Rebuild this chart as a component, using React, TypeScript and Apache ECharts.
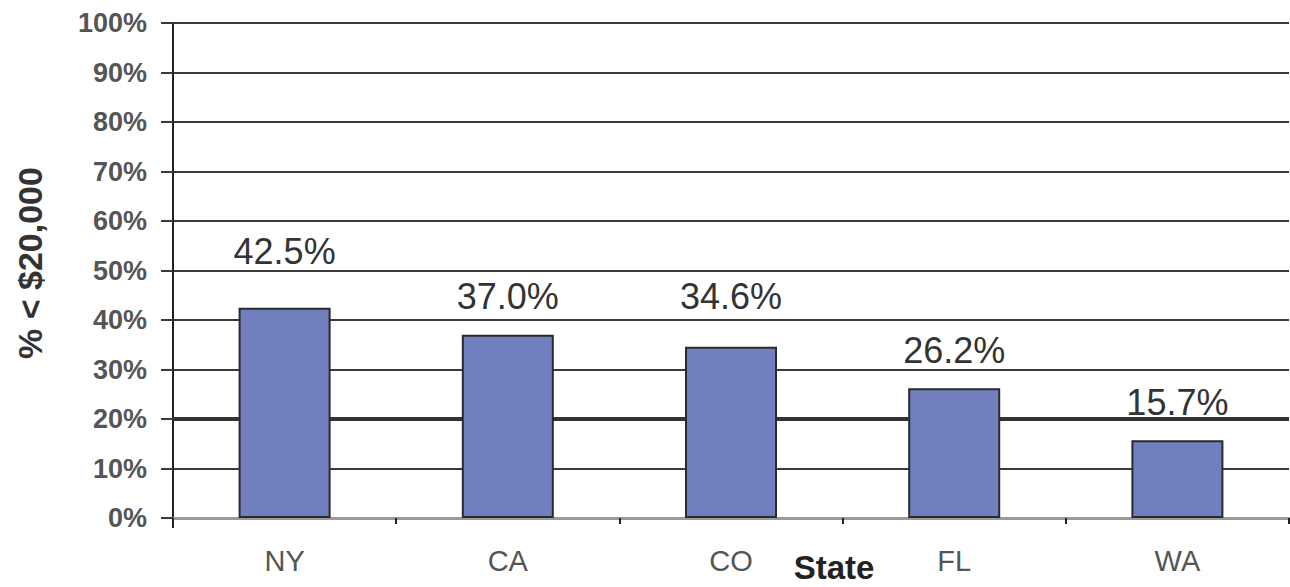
import React, { useEffect, useRef } from "react";
import * as echarts from "echarts";

// Share of households under $20,000, by state
const states = ["NY", "CA", "CO", "FL", "WA"];
const shares = [42.5, 37.0, 34.6, 26.2, 15.7];
// extra lift of the value labels above their bars (px)
const labelLift = [18, 0, 12, 0, 0];

const yTicks = { min: 0, max: 100, interval: 10 };
// the heavier reference gridline
const heavyLine = 20;

const GRID = { left: 173, right: 1, top: 23, bottom: 69 };
const W = 1290;
const H = 587;

export default function App() {
  const ref = useRef<HTMLDivElement>(null);

  useEffect(() => {
    if (!ref.current) return;
    const chart = echarts.init(ref.current, undefined, { renderer: "svg" });
    const sans = "Liberation Sans, Arial, sans-serif";

    chart.setOption({
      animation: false,
      backgroundColor: "#ffffff",
      grid: { ...GRID, containLabel: false },
      xAxis: {
        type: "category",
        data: states,
        axisLine: { show: true, lineStyle: { color: "#9a9a9a", width: 3 } },
        axisTick: {
          show: true,
          interval: 0,
          length: 6,
          lineStyle: { color: "#222", width: 2 },
        },
        axisLabel: {
          color: "#555",
          fontFamily: sans,
          fontSize: 29,
          margin: 28,
        },
        splitLine: { show: false },
      },
      yAxis: {
        type: "value",
        min: yTicks.min,
        max: yTicks.max,
        interval: yTicks.interval,
        axisLine: { show: true, lineStyle: { color: "#222", width: 2 } },
        axisTick: {
          show: true,
          length: 12,
          lineStyle: { color: "#3a3a3a", width: 2 },
        },
        axisLabel: {
          formatter: "{value}%",
          color: "#555",
          fontFamily: sans,
          fontWeight: "bold",
          fontSize: 27,
          margin: 26,
        },
        splitLine: { show: true, lineStyle: { color: "#3a3a3a", width: 2 } },
      },
      series: [
        {
          // carries only the heavy gridline, kept beneath the bars
          type: "line",
          data: [],
          z: 1,
          silent: true,
          markLine: {
            silent: true,
            symbol: "none",
            label: { show: false },
            lineStyle: { color: "#333", width: 4, type: "solid" },
            data: [{ yAxis: heavyLine }],
          },
        },
        {
          type: "bar",
          barWidth: 92,
          z: 5,
          data: shares.map((v, i) => ({
            value: v,
            label: { offset: [0, -labelLift[i]] },
          })),
          itemStyle: {
            color: "#7080bf",
            borderColor: "#2a2a2a",
            borderWidth: 2,
          },
          label: {
            show: true,
            position: "top",
            distance: 20,
            color: "#333",
            fontFamily: sans,
            fontSize: 36,
            formatter: (p: any) => Number(p.value).toFixed(1) + "%",
          },
        },
      ],
      graphic: [
        {
          type: "line",
          shape: {
            x1: GRID.left,
            y1: H - GRID.bottom,
            x2: GRID.left,
            y2: H - GRID.bottom + 10,
          },
          style: { stroke: "#222", lineWidth: 2 },
        },
        {
          type: "text",
          x: 30,
          y: 263,
          rotation: Math.PI / 2,
          style: {
            text: "% < $20,000",
            fill: "#333",
            font: `bold 34px ${sans}`,
            align: "center",
            verticalAlign: "middle",
          },
        },
        {
          type: "text",
          x: 834,
          y: 567,
          style: {
            text: "State",
            fill: "#222",
            font: `bold 33px ${sans}`,
            align: "center",
            verticalAlign: "middle",
          },
        },
      ],
    });

    return () => chart.dispose();
  }, []);

  return (
    <div
      ref={ref}
      style={{ position: "fixed", left: 0, top: 0, width: W, height: H }}
    />
  );
}
